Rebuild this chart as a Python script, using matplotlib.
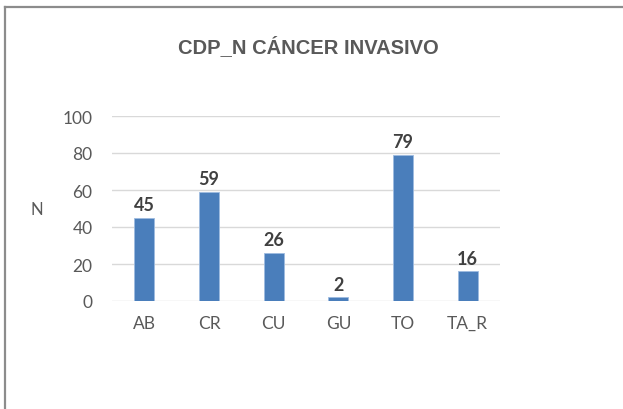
import matplotlib.pyplot as plt
import numpy as np

categories = ["AB", "CR", "CU", "GU", "TO", "TA_R"]
values = [45, 59, 26, 2, 79, 16]
y_ticks = [0, 20, 40, 60, 80, 100]

bar_color = "#4a7ebb"
grid_color = "#d9d9d9"
text_color = "#595959"
label_color = "#404040"

fig = plt.figure(figsize=(6.23, 4.10), dpi=100)

# chart border (only top and left visible in the reference)
fig.add_artist(plt.Line2D([5 / 623, 5 / 623], [0, 1 - 8 / 410], color="#8c8c8c", lw=1.6))
fig.add_artist(plt.Line2D([5 / 623, 1], [1 - 8 / 410, 1 - 8 / 410], color="#8c8c8c", lw=1.6))

ax = fig.add_axes([112 / 623, 1 - 302 / 410, 388 / 623, 185 / 410])
x = np.arange(len(categories))
bars = ax.bar(x, values, width=0.31, color=bar_color, edgecolor="#9dbbe0",
              linewidth=0.6, zorder=3)

ax.set_xlim(-0.5, len(categories) - 0.5)
ax.set_ylim(0, 100)
ax.set_yticks(y_ticks)
ax.set_xticks(x)
ax.set_xticklabels(categories)
ax.grid(axis="y", color=grid_color, lw=1, zorder=0)
for s in ax.spines.values():
    s.set_visible(False)
ax.tick_params(length=0, labelsize=12.5, labelcolor=text_color)
ax.tick_params(axis="y", pad=14)
ax.tick_params(axis="x", pad=10)
for lbl in ax.get_xticklabels() + ax.get_yticklabels():
    lbl.set_family("Lato")

for b, v in zip(bars, values):
    ax.text(b.get_x() + b.get_width() / 2, v + 2.5, str(v), ha="center", va="bottom",
            fontsize=13, fontweight="bold", color=label_color, family="Lato")

fig.text(37 / 623, 1 - 210 / 410, "N", ha="center", va="center", fontsize=12,
         color=text_color, family="Lato")
fig.text(308 / 623, 1 - 47 / 410, "CDP_N CÁNCER INVASIVO", ha="center", va="center",
         fontsize=14.5, fontweight="bold", color=text_color, family="Liberation Sans")

fig.savefig("out.png", dpi=100)
